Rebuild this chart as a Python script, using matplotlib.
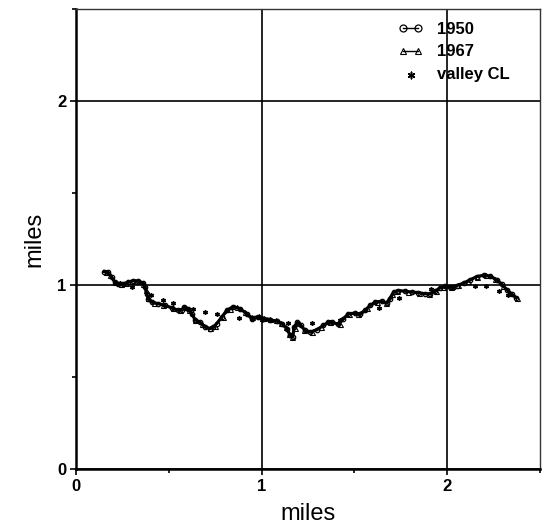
import matplotlib
matplotlib.use("Agg")
import matplotlib.pyplot as plt
from matplotlib.ticker import MultipleLocator

plt.rcParams['font.family'] = ['Liberation Sans', 'DejaVu Sans']

# Channel centerline, 1950 survey (miles)
x_1950 = [0.153, 0.174, 0.192, 0.210, 0.228, 0.255, 0.282, 0.309, 0.336, 0.363,
          0.372, 0.381, 0.390, 0.408, 0.444, 0.480, 0.516, 0.551, 0.570, 0.584,
          0.605, 0.624, 0.642, 0.668, 0.695, 0.722, 0.740, 0.758, 0.785, 0.812,
          0.848, 0.884, 0.920, 0.947, 0.983, 1.010, 1.046, 1.082, 1.109, 1.136,
          1.154, 1.168, 1.175, 1.193, 1.211, 1.235, 1.261, 1.298, 1.333, 1.360,
          1.378, 1.414, 1.441, 1.468, 1.504, 1.531, 1.558, 1.585, 1.612, 1.648,
          1.675, 1.693, 1.711, 1.737, 1.774, 1.810, 1.845, 1.881, 1.908, 1.935,
          1.962, 1.989, 2.016, 2.052, 2.088, 2.124, 2.160, 2.196, 2.232, 2.268,
          2.295, 2.322, 2.349, 2.372]
y_1950 = [1.073, 1.069, 1.042, 1.015, 1.007, 1.007, 1.015, 1.024, 1.021, 1.010,
          0.988, 0.952, 0.925, 0.907, 0.898, 0.889, 0.876, 0.862, 0.866, 0.880,
          0.871, 0.844, 0.811, 0.798, 0.771, 0.763, 0.771, 0.790, 0.825, 0.862,
          0.883, 0.871, 0.844, 0.817, 0.825, 0.817, 0.808, 0.804, 0.790, 0.763,
          0.726, 0.717, 0.771, 0.798, 0.780, 0.753, 0.744, 0.757, 0.780, 0.798,
          0.798, 0.786, 0.817, 0.844, 0.847, 0.840, 0.862, 0.889, 0.907, 0.912,
          0.901, 0.925, 0.961, 0.970, 0.966, 0.961, 0.959, 0.952, 0.952, 0.966,
          0.985, 0.992, 0.988, 0.997, 1.010, 1.028, 1.046, 1.053, 1.048, 1.028,
          1.003, 0.974, 0.949, 0.931]

# Channel centerline, 1967 survey (miles)
x_1967 = [0.160, 0.185, 0.210, 0.240, 0.270, 0.300, 0.330, 0.360, 0.375, 0.390,
          0.420, 0.470, 0.520, 0.560, 0.585, 0.610, 0.640, 0.680, 0.720, 0.750,
          0.790, 0.830, 0.870, 0.910, 0.950, 0.985, 1.015, 1.045, 1.075, 1.105,
          1.130, 1.150, 1.165, 1.178, 1.200, 1.230, 1.270, 1.320, 1.370, 1.420,
          1.470, 1.520, 1.570, 1.620, 1.670, 1.700, 1.730, 1.790, 1.850, 1.900,
          1.940, 1.980, 2.020, 2.060, 2.110, 2.160, 2.210, 2.260, 2.300, 2.340,
          2.375]
y_1967 = [1.070, 1.055, 1.018, 1.008, 1.012, 1.022, 1.020, 1.008, 0.975, 0.930,
          0.903, 0.892, 0.874, 0.862, 0.879, 0.866, 0.812, 0.790, 0.764, 0.778,
          0.828, 0.870, 0.880, 0.852, 0.826, 0.832, 0.822, 0.817, 0.808, 0.795,
          0.770, 0.732, 0.720, 0.768, 0.795, 0.758, 0.746, 0.772, 0.798, 0.790,
          0.843, 0.842, 0.873, 0.908, 0.903, 0.950, 0.970, 0.963, 0.958, 0.953,
          0.970, 0.991, 0.990, 1.000, 1.022, 1.045, 1.052, 1.030, 0.996, 0.954,
          0.930]

# Valley centerline (miles)
x_valley = [0.237, 0.302, 0.404, 0.467, 0.525, 0.632, 0.693, 0.758, 0.879, 1.003,
            1.143, 1.271, 1.423, 1.635, 1.741, 1.914, 2.032, 2.151, 2.210, 2.277,
            2.325]
y_valley = [1.010, 0.988, 0.943, 0.916, 0.900, 0.869, 0.854, 0.844, 0.818, 0.808,
            0.791, 0.795, 0.808, 0.874, 0.928, 0.979, 0.986, 0.997, 0.992, 0.966,
            0.947]

fig = plt.figure(figsize=(5.44, 5.29), dpi=100)
ax = fig.add_axes([76 / 544, 60 / 529, 464 / 544, 460 / 529])

ax.plot(x_1950, y_1950, color='black', lw=2.3, marker='o', ms=3.2,
        mfc='none', mec='black', mew=0.9, label='1950', zorder=3)
ax.plot(x_1967, y_1967, color='black', lw=1.2, marker='^', ms=3.6,
        mfc='none', mec='black', mew=0.8, label='1967', zorder=3)
ax.scatter(x_valley, y_valley, marker=(6, 2, 0), s=7, color='black',
           linewidths=1.1, label='valley CL', zorder=4)

ax.set_xlim(0, 2.5)
ax.set_ylim(0, 2.5)
ax.xaxis.set_major_locator(MultipleLocator(1))
ax.yaxis.set_major_locator(MultipleLocator(1))
ax.xaxis.set_minor_locator(MultipleLocator(0.5))
ax.yaxis.set_minor_locator(MultipleLocator(0.5))
ax.grid(which='major', color='black', lw=1.2)
ax.set_axisbelow(True)
ax.tick_params(which='major', direction='out', length=4, width=1.2,
               labelsize=12, pad=3)
ax.tick_params(which='minor', direction='out', length=3, width=1.2)
for lab in ax.get_xticklabels() + ax.get_yticklabels():
    lab.set_fontweight('bold')

for side in ['left', 'bottom']:
    ax.spines[side].set_linewidth(1.8)
for side in ['top', 'right']:
    ax.spines[side].set_linewidth(1.0)
    ax.spines[side].set_color('#333333')

ax.set_xlabel('miles', fontsize=17, labelpad=7)
ax.set_ylabel('miles', fontsize=17, labelpad=8)

leg = ax.legend(loc='upper left', bbox_to_anchor=(0.695, 0.972), frameon=False,
                numpoints=2, scatterpoints=1, handlelength=1.5,
                handletextpad=0.8, labelspacing=0.45, borderaxespad=0.0,
                borderpad=0.0, prop={'size': 12, 'weight': 'bold'})
handles = leg.legend_handles
handles[0].set_linewidth(1.0)
handles[0].set_markersize(5)
handles[1].set_linewidth(1.0)
handles[1].set_markersize(5)
handles[2].set_sizes([22])

fig.savefig('out.png', dpi=100)
